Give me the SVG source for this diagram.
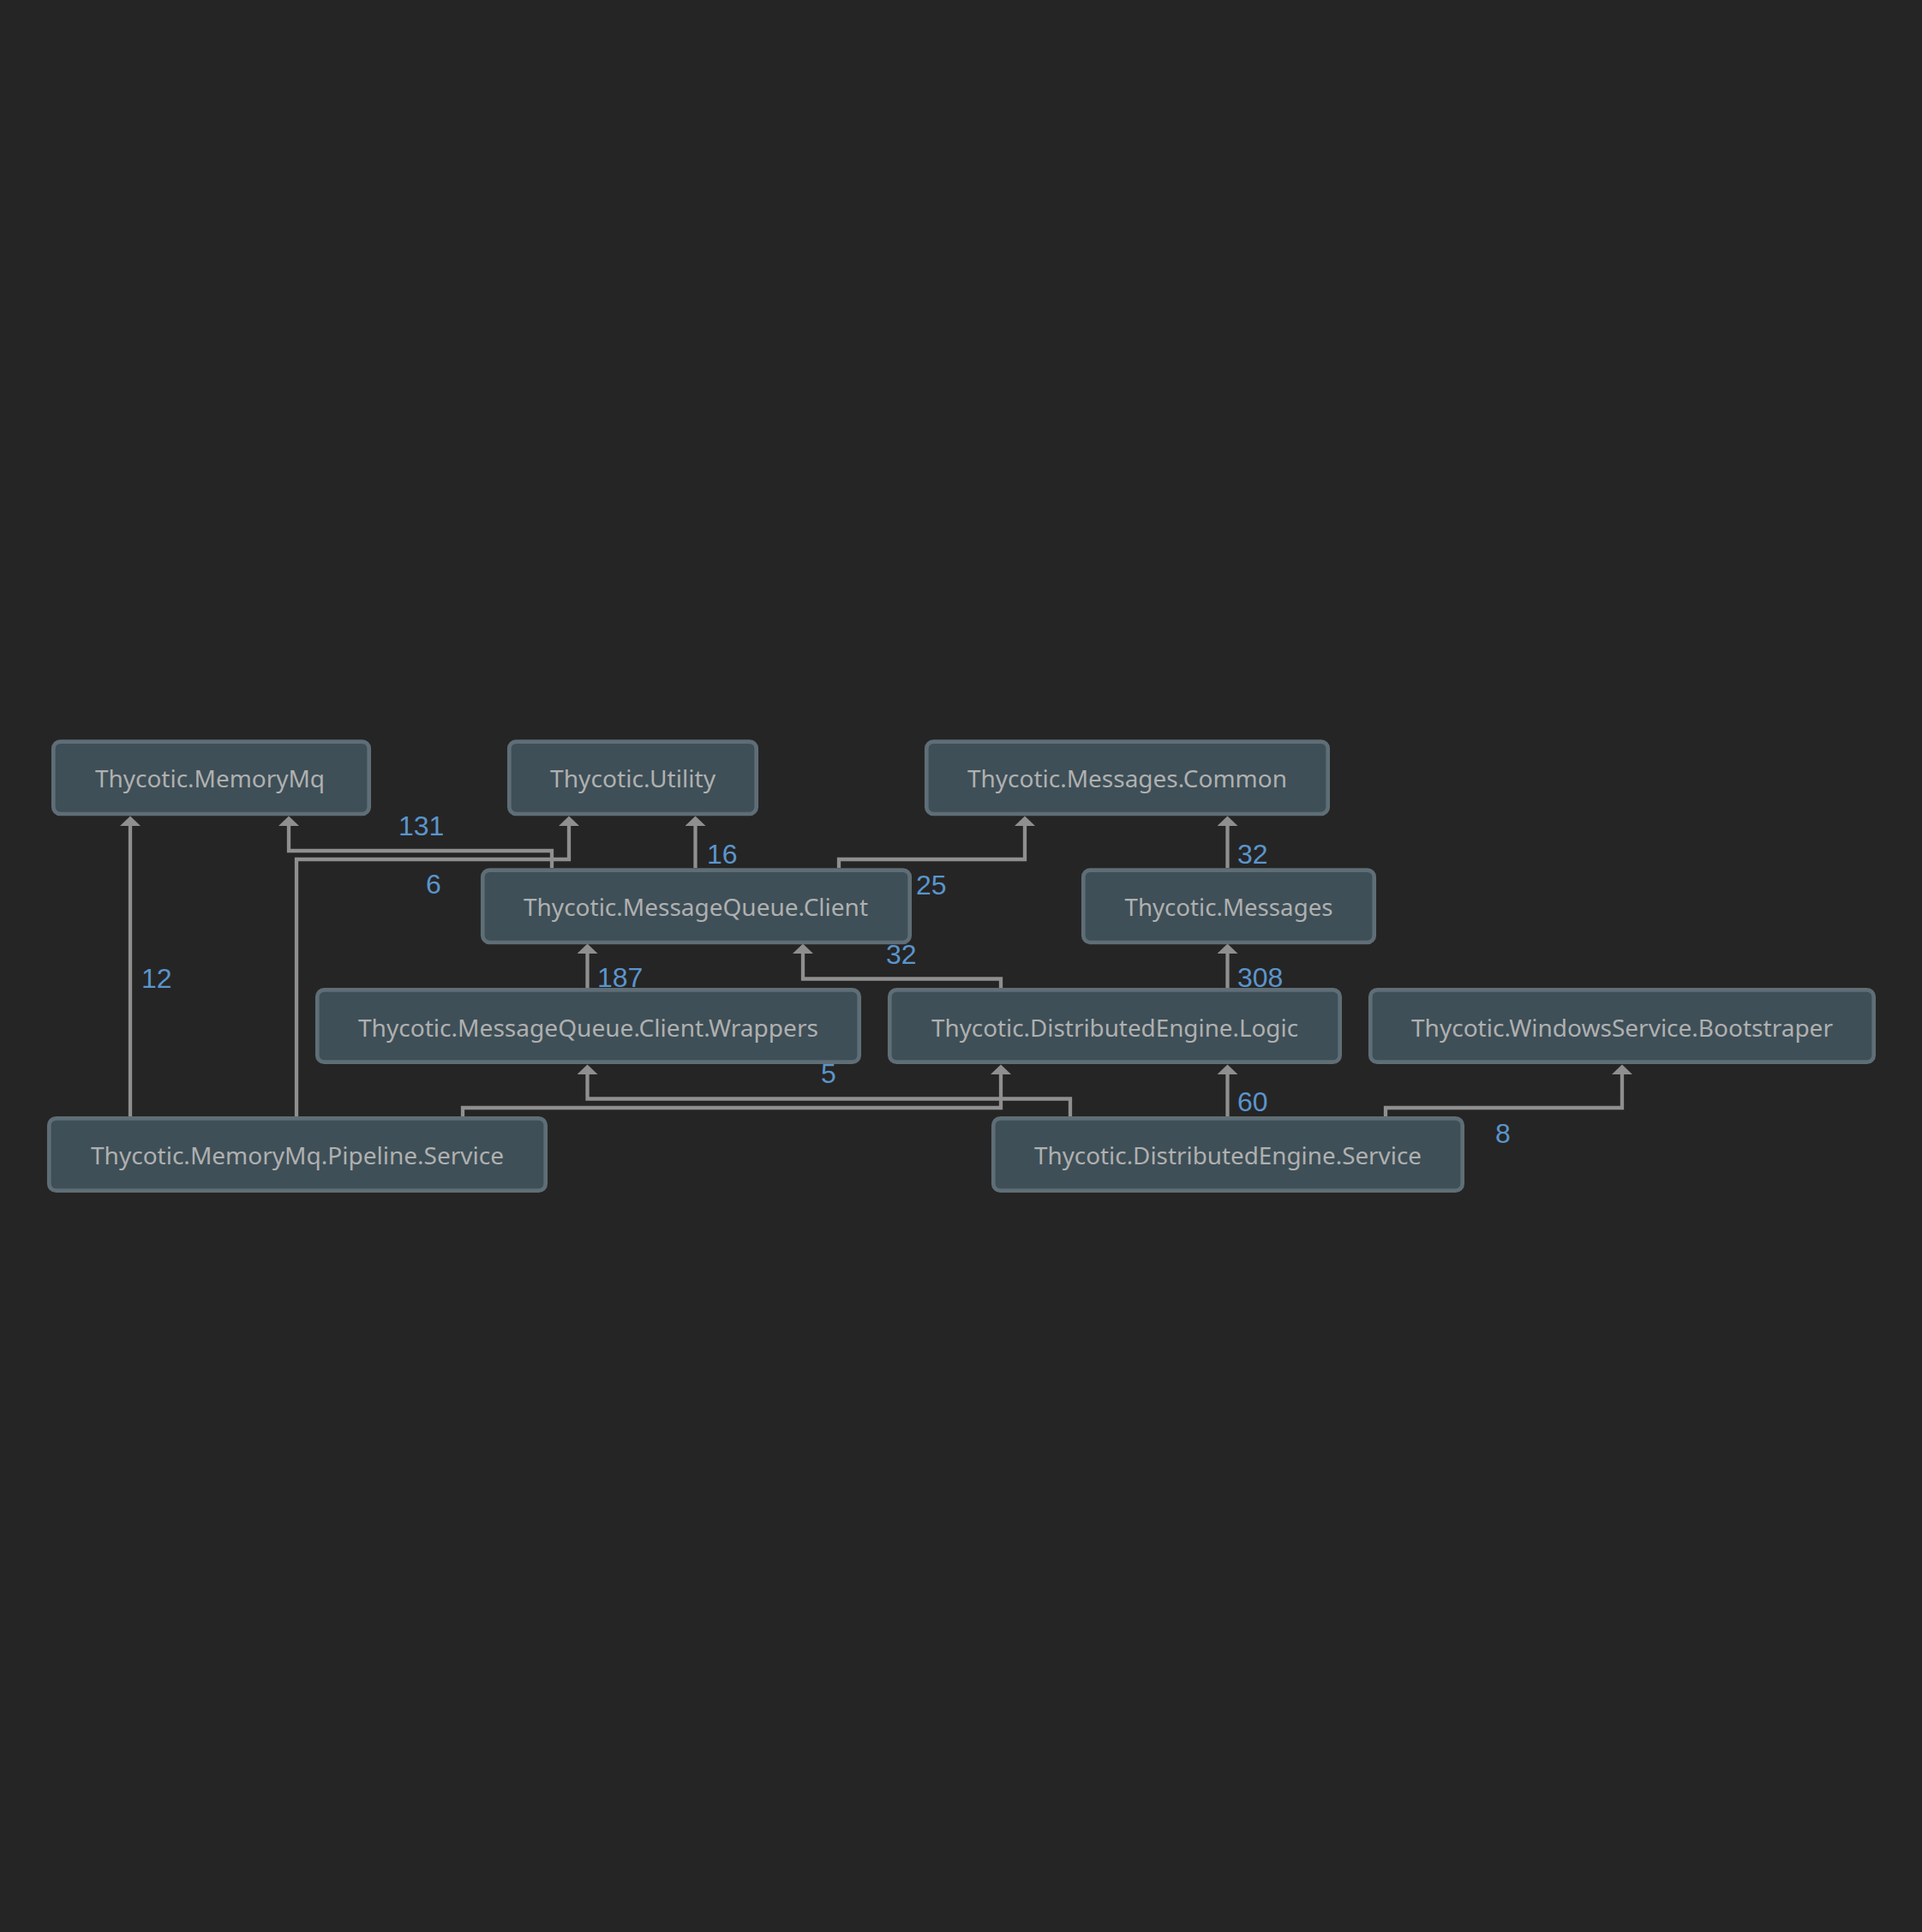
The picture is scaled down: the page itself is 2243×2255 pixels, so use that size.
<svg xmlns="http://www.w3.org/2000/svg" width="2243" height="2255" viewBox="0 0 2243 2255">
<defs>
<style>
.node rect{fill:#3e4f57;stroke:#5f6e76;stroke-width:4.7}
.node text{font-family:"Noto Sans","Open Sans",sans-serif;font-size:27px;fill:#b0b0b0;text-anchor:middle}
.edges path{fill:none;stroke:#8f8f8f;stroke-width:4.3;marker-end:url(#arrow)}
.lbl{font-family:"Liberation Sans",Arial,sans-serif;font-size:32px;fill:#5b95cc}
</style>
<marker id="arrow" markerUnits="userSpaceOnUse" markerWidth="12" markerHeight="24" viewBox="0 0 12 24" refX="0" refY="12" orient="auto">
<path d="M0,0 L11.5,12 L0,24 Z" fill="#8f8f8f"/>
</marker>
</defs>
<rect width="2243" height="2255" fill="#252525"/>
<g class="edges" id="connectors">
<path d="M152 1303 V964"/>
<path d="M644 1013 V993 H337 V964"/>
<path d="M346 1303 V1003 H664 V964"/>
<path d="M811.5 1013 V964"/>
<path d="M979 1013 V1003 H1196 V964"/>
<path d="M1432.5 1013 V964"/>
<path d="M685.5 1153 V1113"/>
<path d="M1168 1153 V1142.5 H937 V1113"/>
<path d="M1432.5 1153 V1113"/>
<path d="M1249 1303 V1282.5 H685.5 V1254"/>
<path d="M540 1303 V1293 H1168 V1254"/>
<path d="M1432.5 1303 V1254"/>
<path d="M1617 1303 V1293 H1893 V1254"/>
</g>
<g id="labels">
<text class="lbl" x="465" y="975">131</text>
<text class="lbl" x="497" y="1043">6</text>
<text class="lbl" x="825" y="1008">16</text>
<text class="lbl" x="1069" y="1044">25</text>
<text class="lbl" x="1444" y="1008">32</text>
<text class="lbl" x="697" y="1152">187</text>
<text class="lbl" x="1034" y="1125">32</text>
<text class="lbl" x="1444" y="1152">308</text>
<text class="lbl" x="165" y="1153">12</text>
<text class="lbl" x="958" y="1264">5</text>
<text class="lbl" x="1444" y="1297">60</text>
<text class="lbl" x="1745" y="1334">8</text>
</g>
<g class="node" id="n-memorymq"><rect x="62.3" y="865.6" width="368.4" height="84.4" rx="8"/><text x="245" y="919" textLength="268" lengthAdjust="spacingAndGlyphs">Thycotic.MemoryMq</text></g>
<g class="node" id="n-utility"><rect x="594.3" y="865.6" width="288.4" height="84.4" rx="8"/><text x="738.5" y="919" textLength="193" lengthAdjust="spacingAndGlyphs">Thycotic.Utility</text></g>
<g class="node" id="n-messages-common"><rect x="1081.3" y="865.6" width="468.4" height="84.4" rx="8"/><text x="1315.5" y="919" textLength="373" lengthAdjust="spacingAndGlyphs">Thycotic.Messages.Common</text></g>
<g class="node" id="n-mq-client"><rect x="563.3" y="1015.6" width="498.4" height="84.4" rx="8"/><text x="812" y="1069" textLength="402" lengthAdjust="spacingAndGlyphs">Thycotic.MessageQueue.Client</text></g>
<g class="node" id="n-messages"><rect x="1264.3" y="1015.6" width="339.4" height="84.4" rx="8"/><text x="1434" y="1069" textLength="243" lengthAdjust="spacingAndGlyphs">Thycotic.Messages</text></g>
<g class="node" id="n-wrappers"><rect x="370.3" y="1155.3" width="632.4" height="84.4" rx="8"/><text x="686.5" y="1210" textLength="537" lengthAdjust="spacingAndGlyphs">Thycotic.MessageQueue.Client.Wrappers</text></g>
<g class="node" id="n-de-logic"><rect x="1038.3" y="1155.3" width="525.4" height="84.4" rx="8"/><text x="1301" y="1210" textLength="428" lengthAdjust="spacingAndGlyphs">Thycotic.DistributedEngine.Logic</text></g>
<g class="node" id="n-bootstraper"><rect x="1599.3" y="1155.3" width="587.4" height="84.4" rx="8"/><text x="1893" y="1210" textLength="492" lengthAdjust="spacingAndGlyphs">Thycotic.WindowsService.Bootstraper</text></g>
<g class="node" id="n-pipeline"><rect x="57.3" y="1305.3" width="579.4" height="84.4" rx="8"/><text x="347" y="1359" textLength="482" lengthAdjust="spacingAndGlyphs">Thycotic.MemoryMq.Pipeline.Service</text></g>
<g class="node" id="n-de-service"><rect x="1159.3" y="1305.3" width="547.4" height="84.4" rx="8"/><text x="1433" y="1359" textLength="452" lengthAdjust="spacingAndGlyphs">Thycotic.DistributedEngine.Service</text></g>
</svg>
